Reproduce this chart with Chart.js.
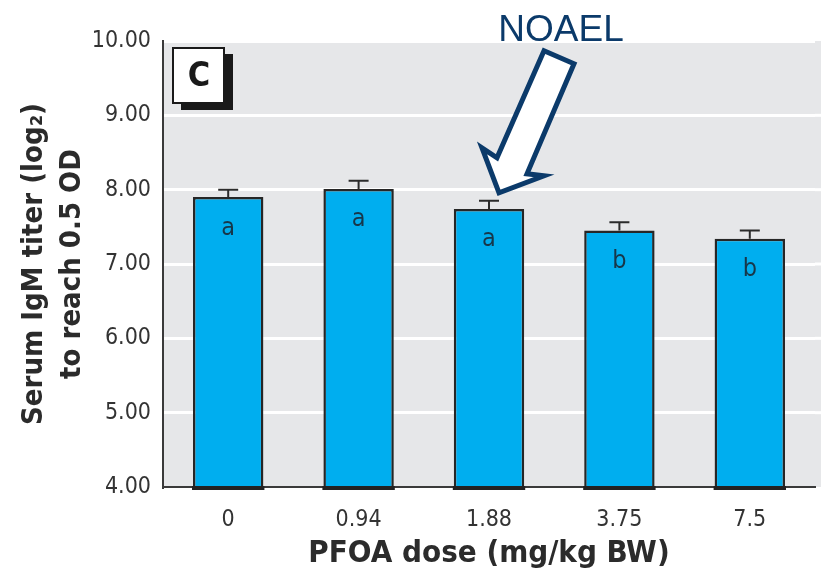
<!DOCTYPE html>
<html>
<head>
<meta charset="utf-8">
<script src="https://cdn.jsdelivr.net/npm/chart.js@4.4.1/dist/chart.umd.min.js"></script>
<style>
  html, body { margin: 0; padding: 0; background: #fff; }
  #wrap { width: 821px; height: 576px; position: relative; }
</style>
</head>
<body>
<div id="wrap"><canvas id="myBarChart" width="821" height="576"></canvas></div>
<script>
// data
const doses = ['0', '0.94', '1.88', '3.75', '7.5'];
const igmMeans = [7.90, 8.01, 7.74, 7.45, 7.34];
const igmErrors = [0.10, 0.11, 0.11, 0.11, 0.11];
const groupLetters = ['a', 'a', 'a', 'b', 'b'];
const yTicks = [4, 5, 6, 7, 8, 9, 10];
const noaelIndex = 2;

const narrow = '"DejaVu Sans Condensed", "Liberation Sans", sans-serif';
const NAVY = '#0b3a6a';

// gray plot background, runs out to the right edge
const plotBackground = {
  id: 'plotBackground',
  beforeDraw(chart) {
    const { ctx, chartArea } = chart;
    ctx.save();
    ctx.fillStyle = '#e6e7e9';
    ctx.fillRect(chartArea.left, chartArea.top, chart.width - chartArea.left, chartArea.bottom - chartArea.top);
    // white grid lines carried on past the last category
    const yScale = chart.scales.y;
    ctx.strokeStyle = '#fff';
    ctx.lineWidth = 3;
    yTicks.slice(1, -1).forEach(v => {
      const py = yScale.getPixelForValue(v);
      ctx.beginPath();
      ctx.moveTo(chartArea.right, py);
      ctx.lineTo(chart.width, py);
      ctx.stroke();
    });
    ctx.restore();
  }
};

// upper error bars, group letters, panel tag, NOAEL arrow
const extras = {
  id: 'extras',
  afterDatasetsDraw(chart) {
    const { ctx, chartArea } = chart;
    const yScale = chart.scales.y;
    const bars = chart.getDatasetMeta(0).data;

    ctx.save();
    // thick dark foot under each bar
    ctx.fillStyle = '#222';
    bars.forEach(bar => {
      ctx.fillRect(bar.x - bar.width / 2 - 1, chartArea.bottom - 1, bar.width + 2, 4);
    });

    ctx.strokeStyle = '#2b2b2b';
    ctx.lineWidth = 2;
    bars.forEach((bar, i) => {
      const top = yScale.getPixelForValue(igmMeans[i] + igmErrors[i]);
      ctx.beginPath();
      ctx.moveTo(bar.x, bar.y);
      ctx.lineTo(bar.x, top);
      ctx.moveTo(bar.x - 10, top);
      ctx.lineTo(bar.x + 10, top);
      ctx.stroke();

      ctx.fillStyle = '#17374a';
      ctx.font = '25px ' + narrow;
      ctx.textAlign = 'center';
      ctx.textBaseline = 'middle';
      ctx.fillText(groupLetters[i], bar.x, bar.y + 31);
    });

    // panel tag "C"
    const bx = chartArea.left + 10, by = chartArea.top + 7;
    ctx.fillStyle = '#1a1a1a';
    ctx.fillRect(bx + 8, by + 6, 52, 56);
    ctx.fillStyle = '#fff';
    ctx.fillRect(bx, by, 51, 55);
    ctx.lineWidth = 2;
    ctx.strokeStyle = '#1a1a1a';
    ctx.strokeRect(bx, by, 51, 55);
    ctx.fillStyle = '#1a1a1a';
    ctx.font = 'bold 34px ' + narrow;
    ctx.fillText('C', bx + 26, by + 29);

    // NOAEL arrow, tip placed just above the 1.88 error bar
    const nb = bars[noaelIndex];
    const tipX = nb.x + 10;
    const tipY = yScale.getPixelForValue(igmMeans[noaelIndex] + igmErrors[noaelIndex]) - 8;
    const shape = [[45, -142], [75, -129], [28, -19], [45, -17], [0, 0], [-17, -45], [-2, -35]];
    ctx.beginPath();
    shape.forEach(([dx, dy], k) => {
      if (k === 0) ctx.moveTo(tipX + dx, tipY + dy);
      else ctx.lineTo(tipX + dx, tipY + dy);
    });
    ctx.closePath();
    ctx.fillStyle = '#fff';
    ctx.fill();
    ctx.lineWidth = 5;
    ctx.lineJoin = 'miter';
    ctx.strokeStyle = NAVY;
    ctx.stroke();

    ctx.fillStyle = NAVY;
    ctx.font = '37px "Liberation Sans", Arial, sans-serif';
    ctx.textAlign = 'center';
    ctx.textBaseline = 'middle';
    ctx.fillText('NOAEL', tipX + 62, 31);
    ctx.restore();
  }
};

const ctx = document.getElementById('myBarChart').getContext('2d');

new Chart(ctx, {
  type: 'bar',
  data: {
    labels: doses,
    datasets: [{
      label: 'Serum IgM titer',
      data: igmMeans,
      backgroundColor: '#00aeef',
      borderColor: '#262626',
      borderWidth: 2.5,
      borderSkipped: false,
      barPercentage: 0.54,
      categoryPercentage: 1.0
    }]
  },
  options: {
    responsive: false,
    animation: false,
    layout: { padding: { top: 41, right: 6, bottom: 0, left: 0 } },
    plugins: {
      legend: { display: false },
      tooltip: { enabled: false }
    },
    scales: {
      x: {
        grid: { display: false },
        border: { display: true, color: '#3a3a3a', width: 2 },
        ticks: {
          color: '#333',
          font: { family: narrow, size: 23 },
          padding: 11
        },
        title: {
          display: true,
          text: 'PFOA dose (mg/kg BW)',
          color: '#2b2b2b',
          font: { family: narrow, size: 31, weight: 'bold' },
          padding: { top: 0, bottom: 3 }
        },
        afterFit(scale) { scale.height = 89; }
      },
      y: {
        min: 4,
        max: 10,
        afterBuildTicks(scale) { scale.ticks = yTicks.map(v => ({ value: v })); },
        grid: { color: '#ffffff', lineWidth: 3, drawTicks: false },
        border: { display: true, color: '#3a3a3a', width: 2 },
        ticks: {
          color: '#333',
          font: { family: narrow, size: 23 },
          padding: 12,
          callback: v => Number(v).toFixed(2)
        },
        title: {
          display: true,
          text: ['Serum IgM titer (log\u2082)', 'to reach 0.5 OD'],
          color: '#2b2b2b',
          font: { family: narrow, size: 29, weight: 'bold', lineHeight: 1.3 },
          padding: { top: 16, bottom: 0 }
        },
        afterFit(scale) { scale.width = 163; }
      }
    }
  },
  plugins: [plotBackground, extras]
});
</script>
</body>
</html>
